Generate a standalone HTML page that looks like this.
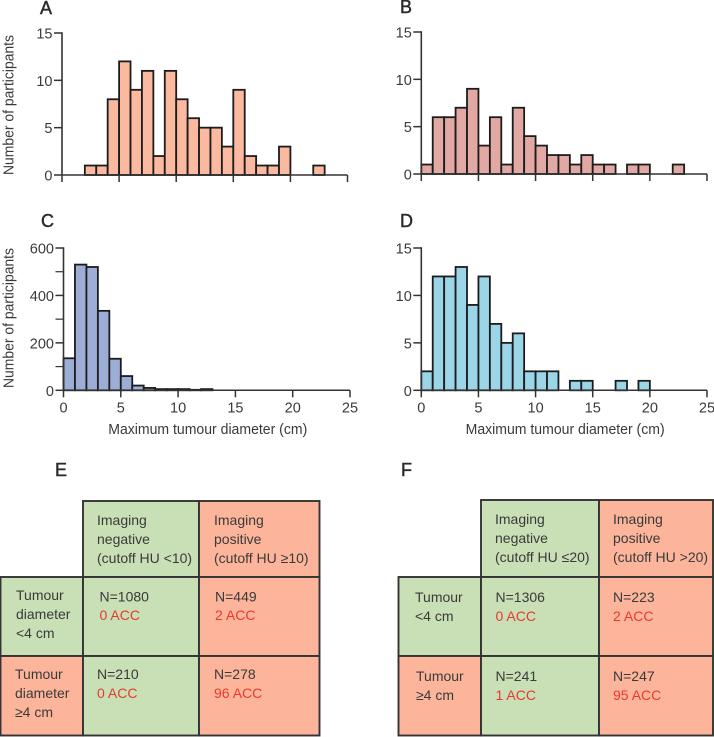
<!DOCTYPE html>
<html lang="en">
<head>
<meta charset="utf-8">
<title>Tumour diameter histograms and imaging tables</title>
<style>
html,body{margin:0;padding:0;background:#fff;}
svg{display:block;font-family:"Liberation Sans",sans-serif;fill:#3a3a3a;}
.panel{font-size:18px;fill:#2b2b2b;stroke:#2b2b2b;stroke-width:.45;}
.tick{font-size:14.5px;}
.axt{font-size:14.5px;}
.c{font-size:14px;}
.r{font-size:14px;fill:#e63a30;}
.cell{stroke:#333;stroke-width:1.9;}
.g{fill:#c9dfb5;}
.s{fill:#fcb59b;}
</style>
</head>
<body>
<svg id="fig" xmlns="http://www.w3.org/2000/svg" width="714" height="737" viewBox="0 0 714 737">
  <g id="charts"></g>

  <text class="panel" x="40" y="14">A</text>
  <text class="panel" x="400" y="13">B</text>
  <text class="panel" x="41" y="227">C</text>
  <text class="panel" x="400" y="227">D</text>
  <text class="panel" x="55" y="476">E</text>
  <text class="panel" x="401" y="476">F</text>

  <g>
    <rect class="cell g" x="83" y="501" width="116" height="76"/>
    <rect class="cell s" x="199" y="501" width="120.500" height="76"/>
    <rect class="cell g" x="0.500" y="577" width="82.500" height="79"/>
    <rect class="cell g" x="83" y="577" width="116" height="79"/>
    <rect class="cell s" x="199" y="577" width="120.500" height="79"/>
    <rect class="cell s" x="0.500" y="656" width="82.500" height="79.500"/>
    <rect class="cell g" x="83" y="656" width="116" height="79.500"/>
    <rect class="cell s" x="199" y="656" width="120.500" height="79.500"/>
    <text class="c"><tspan x="97" y="525">Imaging</tspan><tspan x="97" y="544">negative</tspan><tspan x="97" y="563">(cutoff HU &lt;10)</tspan></text>
    <text class="c"><tspan x="214" y="525">Imaging</tspan><tspan x="214" y="544">positive</tspan><tspan x="214" y="563">(cutoff HU ≥10)</tspan></text>
    <text class="c"><tspan x="16" y="600">Tumour</tspan><tspan x="16" y="619">diameter</tspan><tspan x="16" y="638">&lt;4 cm</tspan></text>
    <text class="c"><tspan x="15" y="679">Tumour</tspan><tspan x="15" y="698">diameter</tspan><tspan x="15" y="717">≥4 cm</tspan></text>
    <text class="c" x="99.5" y="601.5">N=1080</text>
    <text class="r" x="99.5" y="620">0 ACC</text>
    <text class="c" x="215" y="601.5">N=449</text>
    <text class="r" x="215" y="620">2 ACC</text>
    <text class="c" x="97" y="679">N=210</text>
    <text class="r" x="97" y="698">0 ACC</text>
    <text class="c" x="214" y="679">N=278</text>
    <text class="r" x="214" y="698">96 ACC</text>
  </g>

  <g>
    <rect class="cell g" x="481" y="500" width="118" height="77"/>
    <rect class="cell s" x="599" y="500" width="114" height="77"/>
    <rect class="cell g" x="398.500" y="577" width="82.500" height="79"/>
    <rect class="cell g" x="481" y="577" width="118" height="79"/>
    <rect class="cell s" x="599" y="577" width="114" height="79"/>
    <rect class="cell s" x="398.500" y="656" width="82.500" height="79.500"/>
    <rect class="cell g" x="481" y="656" width="118" height="79.500"/>
    <rect class="cell s" x="599" y="656" width="114" height="79.500"/>
    <text class="c"><tspan x="495" y="524">Imaging</tspan><tspan x="495" y="543">negative</tspan><tspan x="495" y="562">(cutoff HU ≤20)</tspan></text>
    <text class="c"><tspan x="613" y="524">Imaging</tspan><tspan x="613" y="543">positive</tspan><tspan x="613" y="562">(cutoff HU &gt;20)</tspan></text>
    <text class="c"><tspan x="415" y="602">Tumour</tspan><tspan x="415" y="621">&lt;4 cm</tspan></text>
    <text class="c"><tspan x="416" y="681">Tumour</tspan><tspan x="416" y="700">≥4 cm</tspan></text>
    <text class="c" x="495.500" y="602">N=1306</text>
    <text class="r" x="495.500" y="621">0 ACC</text>
    <text class="c" x="613" y="602">N=223</text>
    <text class="r" x="613" y="621">2 ACC</text>
    <text class="c" x="495.500" y="681">N=241</text>
    <text class="r" x="495.500" y="700">1 ACC</text>
    <text class="c" x="613" y="681">N=247</text>
    <text class="r" x="613" y="700">95 ACC</text>
  </g>
</svg>

<script>
// Histogram counts per 1 cm bin, first value is the 0-1 cm bin
const valuesA = [0,0,1,1,8,12,9,11,2,11,8,6,5,5,3,9,2,1,1,3,0,0,1];
const valuesB = [1,6,6,7,9,3,6,1,7,4,3,2,2,1,2,1,1,0,1,1,0,0,1];
const valuesC = [135,530,520,335,133,60,20,10,5,5,5,2,5];
const valuesD = [2,12,12,13,9,12,7,5,6,2,2,2,0,1,1,0,0,1,0,1];

// Axis tick values and labels
const xTicks = [0,5,10,15,20,25];
const yTicksCount = [0,5,10,15];
const yTicksLarge = [0,200,400,600];
const yMinorLarge = [100,300,500];
const xTitle = 'Maximum tumour diameter (cm)';
const yTitle = 'Number of participants';

const NS = 'http://www.w3.org/2000/svg';
const root = document.getElementById('charts');

function make(tag, attrs, parent) {
  const el = document.createElementNS(NS, tag);
  for (const k in attrs) el.setAttribute(k, attrs[k]);
  parent.appendChild(el);
  return el;
}

function drawPanel(p) {
  const g = make('g', {}, root);
  
  

  const xScale = v => p.x0 + (p.x1 - p.x0) * v / 25;
  const yScale = v => p.yBottom - (p.yBottom - p.yTop) * v / p.yMax;

  p.values.forEach((v, i) => {
    if (v <= 0) return;
    const bar = make('rect', {
      x: xScale(i), y: yScale(v),
      width: xScale(i + 1) - xScale(i),
      height: yScale(0) - yScale(v),
      fill: p.color, stroke: '#1c1c1c', 'stroke-width': 1.8
    }, g);
    
    
  });

  const yAxis = make('line', {x1: xScale(0), x2: xScale(0), y1: yScale(p.yMax) - 0.7, y2: yScale(0), stroke: '#333', 'stroke-width': 1.6}, g);
  
  
  const xAxis = make('line', {x1: xScale(0), x2: xScale(25), y1: yScale(0), y2: yScale(0), stroke: '#333', 'stroke-width': 1.5}, g);
  
  

  xTicks.forEach(t => {
    const tick = make('line', {x1: xScale(t), x2: xScale(t), y1: yScale(0), y2: yScale(0) + 7, stroke: '#333', 'stroke-width': 1.5}, g);
    
    
    if (p.xLabels) {
      const lab = make('text', {x: xScale(t), y: yScale(0) + 22, 'text-anchor': 'middle', class: 'tick'}, g);
      lab.textContent = t;
      
      
    }
  });

  p.yTicks.forEach(t => {
    const tick = make('line', {x1: xScale(0) - 8, x2: xScale(0), y1: yScale(t), y2: yScale(t), stroke: '#333', 'stroke-width': 1.5}, g);
    
    
    const lab = make('text', {x: xScale(0) - 9.5, y: yScale(t) + 5.5, 'text-anchor': 'end', class: 'tick'}, g);
    lab.textContent = t;
    
    
  });

  (p.yMinor || []).forEach(t => {
    const tick = make('line', {x1: xScale(0) - 8, x2: xScale(0), y1: yScale(t), y2: yScale(t), stroke: '#333', 'stroke-width': 1.2}, g);
    
    
  });

  if (p.yTitleCentre) {
    const yt = make('text', {
      transform: 'translate(13.5 ' + p.yTitleCentre + ') rotate(-90)',
      'text-anchor': 'middle', class: 'axt', textLength: 140, lengthAdjust: 'spacingAndGlyphs'
    }, g);
    yt.textContent = yTitle;
    
    
  }

  if (p.xLabels) {
    const xt = make('text', {
      x: (xScale(0) + xScale(25)) / 2 + 1, y: 434,
      'text-anchor': 'middle', class: 'axt', textLength: 199, lengthAdjust: 'spacingAndGlyphs'
    }, g);
    xt.textContent = xTitle;
    
    
  }
}

drawPanel({id:'a', values:valuesA, color:'#fbb9a0', x0:62, x1:347.500, yTop:33, yBottom:175, yMax:15, yTicks:yTicksCount, xLabels:false, yTitleCentre:105});
drawPanel({id:'b', values:valuesB, color:'#e2a8a3', x0:421.300, x1:707, yTop:32, yBottom:174, yMax:15, yTicks:yTicksCount, xLabels:false});
drawPanel({id:'c', values:valuesC, color:'#9daed6', x0:63.500, x1:350, yTop:248, yBottom:390.300, yMax:600, yTicks:yTicksLarge, yMinor:yMinorLarge, xLabels:true, yTitleCentre:318});
drawPanel({id:'d', values:valuesD, color:'#9bd5e8', x0:421.300, x1:707, yTop:248, yBottom:390.300, yMax:15, yTicks:yTicksCount, xLabels:true});
</script>
</body>
</html>
